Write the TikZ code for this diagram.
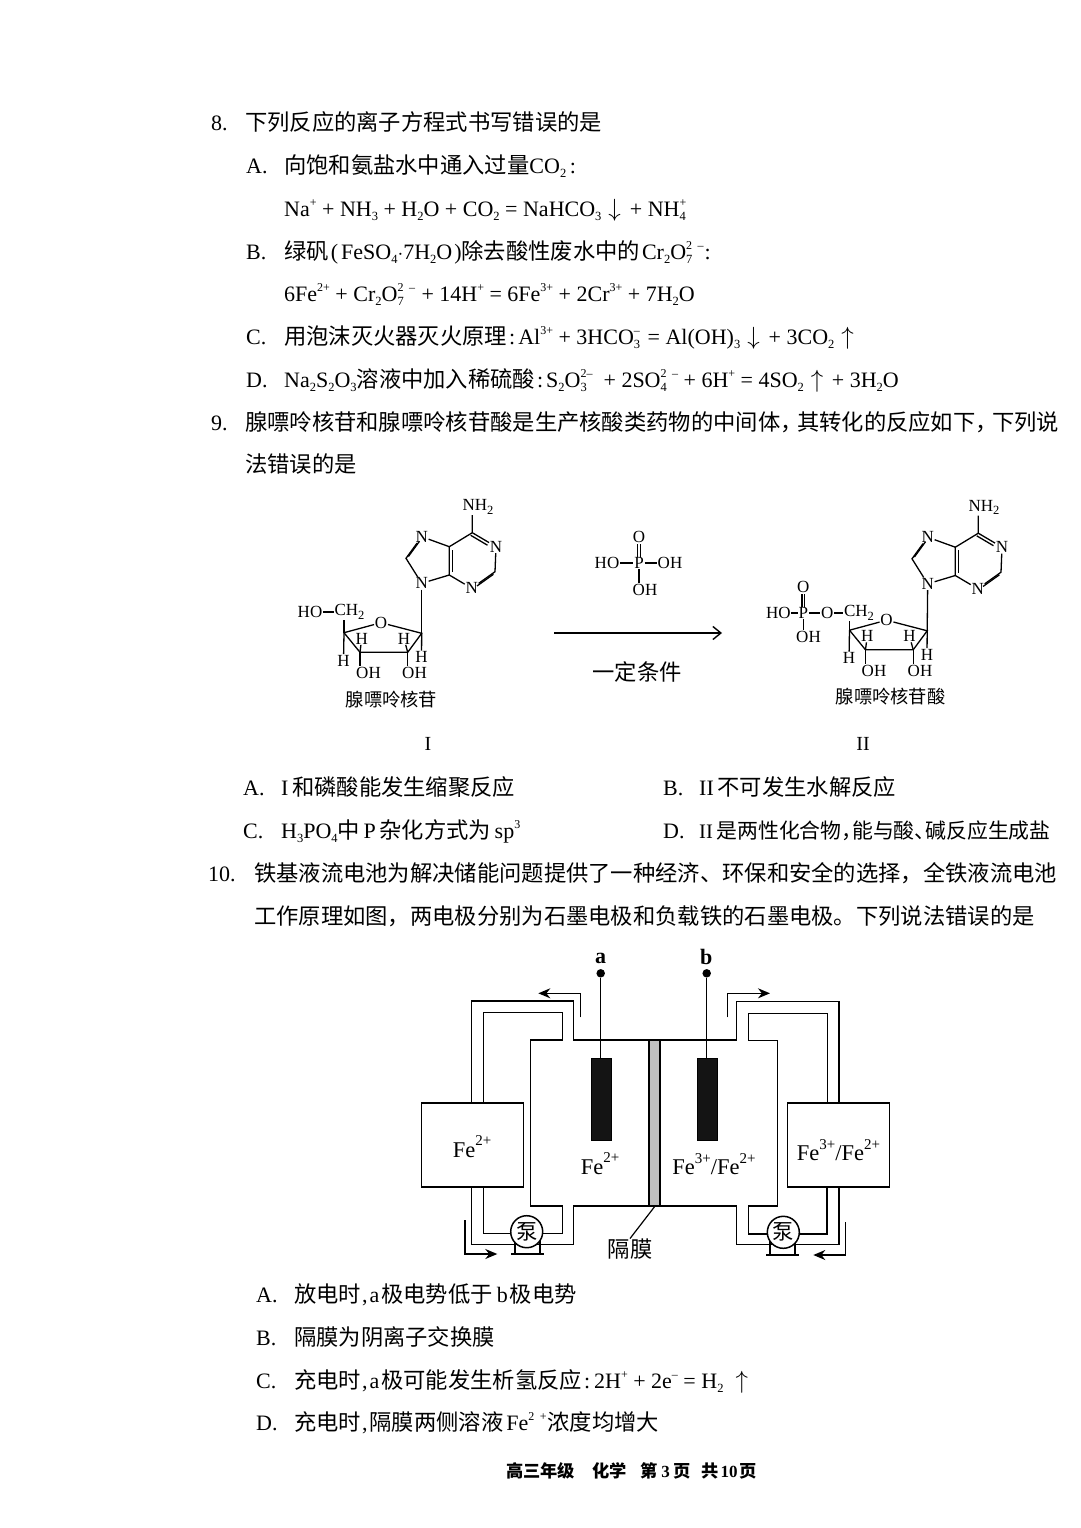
\documentclass[tikz,border=0pt]{standalone}
\usepackage{fontspec}
\setmainfont{Liberation Serif}
\newfontfamily\cjk[Scale=1.0136]{Noto Sans CJK SC}
\usetikzlibrary{arrows.meta}

\newcommand{\zh}[1]{{\cjk #1}}
\newcommand{\sbs}[1]{\raisebox{-.22em}{\fontsize{12.5}{13}\selectfont #1}}
\newcommand{\sps}[1]{\raisebox{.42em}{\fontsize{12}{13}\selectfont #1}}
\newcommand{\ion}[2]{\rlap{\sps{#2}}\sbs{#1}\hspace{.42em}}
\newcommand{\dnarr}{\hspace{7pt}{\fontsize{24.88}{26}\selectfont$\downarrow$}\hspace{3pt}}
\newcommand{\uparr}{\hspace{7pt}{\fontsize{24.88}{26}\selectfont$\uparrow$}\hspace{3pt}}
\newcommand{\halfc}{\zh{，}\hspace{-.25em}}
\newcommand{\fesp}[1]{\raisebox{.52em}{\fontsize{15}{16}\selectfont #1}}
\newcommand{\bodyfont}{\fontsize{22}{24}\selectfont\spaceskip=5.5pt\relax}

\tikzset{
  txt/.style={anchor=base west,inner sep=0pt,font=\bodyfont},
  atom/.style={inner sep=0.6pt,font=\fontsize{17}{18}\selectfont},
  caption/.style={inner sep=0pt,font=\fontsize{18}{19}\selectfont},
  bond/.style={line width=1.3pt},
  pipe/.style={line width=1.5pt},
  flow/.style={line width=1.4pt,-{Stealth[length=12pt,width=10pt]}},
  tank/.style={draw,line width=1.6pt,fill=white,minimum width=102pt,minimum height=84pt,inner sep=0pt},
  pump/.style={draw,circle,line width=1.5pt,fill=white,minimum size=32pt,inner sep=0pt,font=\fontsize{21}{22}\selectfont},
  rod/.style={draw,fill=black!92,minimum width=20.5pt,minimum height=82pt,inner sep=0pt},
  knob/.style={circle,fill=black,minimum size=8.5pt,inner sep=0pt},
  fe/.style={inner sep=0pt,font=\fontsize{22.5}{25}\selectfont},
}

% base ring, both molecules
\newcommand{\adeninepart}{
  \node[atom] (nh) at (478,507) {NH\sbs{2}};
  \coordinate (c6) at (472.3,532.7);
  \node[atom] (n1) at (496,546.7) {N};
  \coordinate (c2) at (495,571.7);
  \node[atom] (n3) at (471.7,588.3) {N};
  \coordinate (c4) at (449.3,575);
  \coordinate (c5) at (449.3,546.7);
  \node[atom] (n7) at (421.7,536.7) {N};
  \coordinate (c8) at (406,558.3);
  \node[atom] (n9) at (421.7,583.3) {N};
  \draw[bond] (c6) -- (n1) -- (c2) -- (n3) -- (c4) -- (c5) -- (c6) -- (c6 |- nh.south);
  \draw[bond] (c5) -- (n7) -- (c8) -- (n9) -- (c4);
  \draw[bond,shorten >=3pt,shorten <=3pt,transform canvas={xshift=3pt}] (c4) -- (c5);
  \draw[bond,transform canvas={xshift=-1.6pt,yshift=-2.6pt}] (c6) -- (n1);
  \draw[bond,transform canvas={xshift=-1.6pt,yshift=-2.6pt}] (c2) -- (n3);
  \draw[bond,transform canvas={xshift=2.4pt,yshift=1.8pt}] (c8) -- (n7);
}
% sugar ring, both molecules
\newcommand{\ribosepart}{
  \coordinate (r4) at (344,632.7);
  \coordinate (r3) at (360,652.3);
  \coordinate (r2) at (407.7,652.3);
  \coordinate (r1) at (421.7,633.3);
  \node[atom] (ro) at (381,622.7) {O};
  \node[atom] (ha) at (361.7,638.5) {H};
  \node[atom] (hb) at (404,638.5) {H};
  \node[atom] (hc) at (343.5,660.5) {H};
  \node[atom] (hd) at (421.5,657) {H};
  \node[atom] (oa) at (368.5,673) {OH};
  \node[atom] (ob) at (414.5,673) {OH};
  \draw[bond] (r4) -- (ro) -- (r1) -- (r2) -- (r3) -- (r4);
  \draw[bond] (r4) -- (hc);
  \draw[bond] (r1) -- (hd);
  \draw[bond] (r3) -- (ha);
  \draw[bond] (r2) -- (hb);
  \draw[bond] (r3) -- (r3 |- oa.north);
  \draw[bond] (r2) -- (r2 |- ob.north);
}

\begin{document}
\begin{tikzpicture}[x=1pt,y=-1pt]
  \useasboundingbox (0,0) rectangle (1080,1528);

  % question 8
  \node[txt] (qa) at (211,130) {8.};
  \node[txt] (qb) at (245,130) {\zh{下列反应的离子方程式书写错误的是}};
  \node[txt] (qc) at (246,173) {A.};
  \node[txt] (qd) at (284,173) {\zh{向饱和氨盐水中通入过量}CO\sbs{2}\,:};
  \node[txt] (qe) at (284,216) {Na\sps{+} + NH\sbs{3} + H\sbs{2}O + CO\sbs{2} = NaHCO\sbs{3}\dnarr{}\hspace{6pt}+ NH\ion{4}{+}};
  \node[txt] (qf) at (246,259) {B.};
  \node[txt] (qg) at (284,259) {\zh{绿矾}\hspace{2pt}(\hspace{3pt}FeSO\sbs{4}$\cdot$7H\sbs{2}O\hspace{2pt})\zh{除去酸性废水中的}\hspace{2pt}Cr\sbs{2}O\ion{7}{2 --}\hspace{3pt}:};
  \node[txt] (qh) at (284,301) {6Fe\sps{2+} + Cr\sbs{2}O\ion{7}{2 --}\hspace{3pt} + 14H\sps{+} = 6Fe\sps{3+} + 2Cr\sps{3+} + 7H\sbs{2}O};
  \node[txt] (qi) at (246,344) {C.};
  \node[txt] (qj) at (284,344) {\zh{用泡沫灭火器灭火原理}\hspace{2pt}:\hspace{3pt}Al\sps{3+} + 3HCO\rlap{\sps{--}}\sbs{3}\hspace{2pt} = Al(OH)\sbs{3}\dnarr{}\hspace{6pt}+ 3CO\sbs{2}\uparr};
  \node[txt] (qk) at (246,387) {D.};
  \node[txt] (ql) at (284,387) {Na\sbs{2}S\sbs{2}O\sbs{3}\zh{溶液中加入稀硫酸}\hspace{2pt}:\hspace{3pt}S\sbs{2}O\ion{3}{2--}\hspace{2pt} + 2SO\ion{4}{2 --}\hspace{2pt} + 6H\sps{+} = 4SO\sbs{2}\uparr{} + 3H\sbs{2}O};

  % question 9
  \node[txt] (ra) at (211,430) {9.};
  \node[txt] (rb) at (245,430) {\zh{腺嘌呤核苷和腺嘌呤核苷酸是生产核酸类药物的中间体}\halfc\zh{其转化的反应如下}\halfc\zh{下列说}};
  \node[txt] (rc) at (245,472) {\zh{法错误的是}};

  % molecule I
  \begin{scope}[name prefix=I-]
    \adeninepart
    \ribosepart
    \node[atom] (ho) at (310,612) {HO};
    \node[atom] (ch) at (349.5,612) {CH\sbs{2}};
    \draw[bond] (ho) -- (ch);
    \draw[bond] (r4) -- (r4 |- ch.south);
  \end{scope}
  \draw[bond] (I-n9) -- (I-r1);
  \node[caption] (capa) at (391.5,700) {\zh{腺嘌呤核苷}};
  \node[atom,font=\fontsize{20}{22}\selectfont] (numa) at (428,744) {I};

  % reagent and arrow
  \coordinate (arra) at (554,633);
  \coordinate (arrb) at (722,633);
  \draw[line width=1.4pt,-{Straight Barb[length=8pt,width=13pt]}] (arra) -- (arrb);
  \node[atom] (pp) at (639,563) {P};
  \node[atom] (po) at (639,537) {O};
  \node[atom] (pa) at (607,563) {HO};
  \node[atom] (pb) at (670,563) {OH};
  \node[atom] (pc) at (645,590) {OH};
  \draw[bond] (pa) -- (pp);
  \draw[bond] (pp) -- (pb);
  \draw[bond] (pp) -- (pp |- pc.north);
  \draw[bond,transform canvas={xshift=-1.2pt}] (pp) -- (po);
  \draw[bond,transform canvas={xshift=1.2pt}] (pp) -- (po);
  \node[inner sep=0pt,font=\fontsize{22}{24}\selectfont] (cond) at (637,672) {\zh{一定条件}};

  % molecule II
  \begin{scope}[shift={(506,0.5)},name prefix=II-]
    \adeninepart
  \end{scope}
  \begin{scope}[shift={(505.5,-2.5)},name prefix=II-]
    \ribosepart
  \end{scope}
  \begin{scope}[name prefix=II-]
    \node[atom] (ch) at (859,613) {CH\sbs{2}};
    \node[atom] (ol) at (827.3,613) {O};
    \node[atom] (pp) at (803.3,613) {P};
    \node[atom] (pd) at (803.3,587) {O};
    \node[atom] (ho) at (778.3,613) {HO};
    \node[atom] (oh) at (808.5,636.5) {OH};
    \draw[bond] (ho) -- (pp);
    \draw[bond] (pp) -- (ol);
    \draw[bond] (ol) -- (ch);
    \draw[bond] (pp) -- (pp |- oh.north);
    \draw[bond,transform canvas={xshift=-1.2pt}] (pp) -- (pd);
    \draw[bond,transform canvas={xshift=1.2pt}] (pp) -- (pd);
    \draw[bond] (r4) -- (r4 |- ch.south);
  \end{scope}
  \draw[bond] (II-n9) -- (II-r1);
  \node[caption] (capb) at (890.5,697) {\zh{腺嘌呤核苷酸}};
  \node[atom,font=\fontsize{20}{22}\selectfont] (numb) at (863,744) {II};

  \node[txt] (sa) at (243,795) {A.};
  \node[txt] (sb) at (281,795) {I\,\zh{和磷酸能发生缩聚反应}};
  \node[txt] (sc) at (663,795) {B.};
  \node[txt] (sd) at (699,795) {II\,\zh{不可发生水解反应}};
  \node[txt] (se) at (243,838) {C.};
  \node[txt] (sf) at (281,838) {H\sbs{3}PO\sbs{4}\zh{中}\,P\,\zh{杂化方式为}\,sp\sps{3}};
  \node[txt] (sg) at (663,838) {D.};
  \node[txt,font=\fontsize{20.6}{24}\selectfont] (sh) at (699,838) {II\,\zh{是两性化合物}\zh{，}\hspace{-.5em}\zh{能与酸、}\hspace{-.5em}\zh{碱反应生成盐}};

  % question 10
  \node[txt] (ta) at (208,881) {10.};
  \node[txt] (tb) at (254,881) {\zh{铁基液流电池为解决储能问题提供了一种经济、环保和安全的选择，全铁液流电池}};
  \node[txt] (tc) at (254,924) {\zh{工作原理如图，两电极分别为石墨电极和负载铁的石墨电极。下列说法错误的是}};

  % cell walls and pipes
  \draw[pipe] (471.7,1102.7) -- (471.7,1001) -- (573.3,1001) -- (573.3,1040) -- (736.7,1040)
    -- (736.7,1001.7) -- (839,1001.7) -- (839,1103);
  \draw[pipe] (483.3,1102.7) -- (483.3,1012.7) -- (562.3,1012.7) -- (562.3,1040) -- (530.7,1040)
    -- (530.7,1206) -- (562.3,1206) -- (562.3,1233.3) -- (483.3,1233.3) -- (483.3,1186.7);
  \draw[pipe] (471.7,1186.7) -- (471.7,1244.3) -- (573.3,1244.3) -- (573.3,1206) -- (736.7,1206)
    -- (736.7,1244.3) -- (839,1244.3) -- (839,1186.7);
  \draw[pipe] (827.3,1103) -- (827.3,1013.3) -- (748.3,1013.3) -- (748.3,1040.5) -- (777.7,1040.5)
    -- (777.7,1206) -- (748.3,1206) -- (748.3,1233.8) -- (827,1233.8) -- (827,1186.7);

  % membrane
  \node[draw,pipe,fill=black!25,minimum width=11pt,minimum height=166pt,inner sep=0pt] (memb) at (654.5,1123) {};
  \node[inner sep=0pt,font=\fontsize{22}{24}\selectfont] (membl) at (630,1249) {\zh{隔膜}};
  \draw[line width=1.2pt] (memb.south) -- (membl.north);

  % tanks
  \node[tank] (tanka) at (472.5,1144.7) {};
  \node[tank] (tankb) at (838.3,1144.8) {};
  \node[fe] (fea) at (472,1146.5) {Fe\fesp{2+}};
  \node[fe] (feb) at (838.5,1150) {Fe\fesp{3+}/Fe\fesp{2+}};
  \node[fe] (fec) at (600,1163.5) {Fe\fesp{2+}};
  \node[fe] (fed) at (714,1164) {Fe\fesp{3+}/Fe\fesp{2+}};

  % electrodes
  \node[rod] (rodb) at (707,1098.8) {};
  \node[rod] (roda) at (601.2,1098.8) {};
  \node[knob] (knoba) at (600.7,973.3) {};
  \node[knob] (knobb) at (706.7,973.3) {};
  \node[inner sep=0pt,font=\bfseries\fontsize{22}{24}\selectfont] (laba) at (600.7,958) {a};
  \node[inner sep=0pt,font=\bfseries\fontsize{22}{24}\selectfont] (labb) at (706.3,957) {b};
  \draw[pipe] (knoba) -- (knoba |- roda.north);
  \draw[pipe] (knobb) -- (knobb |- rodb.north);

  % pumps
  \draw[pipe] (511,1254) -- (544,1254);
  \draw[pipe] (515,1254) -- (515,1240);
  \draw[pipe] (540,1254) -- (540,1240);
  \draw[pipe] (766,1255) -- (799.3,1255);
  \draw[pipe] (770,1255) -- (770,1240);
  \draw[pipe] (795,1255) -- (795,1240);
  \node[pump] (pumpa) at (526.7,1231.7) {\zh{泵}};
  \node[pump] (pumpb) at (783.3,1232.3) {\zh{泵}};

  % flow arrows
  \coordinate (fa) at (580.7,1017.3);
  \coordinate (fb) at (580.7,993.3);
  \coordinate (fc) at (538.3,993.3);
  \draw[flow] (fa) -- (fb) -- (fc);
  \coordinate (ga) at (465,1220);
  \coordinate (gb) at (465,1254);
  \coordinate (gc) at (497.3,1254);
  \draw[flow] (ga) -- (gb) -- (gc);
  \coordinate (ha) at (727.3,1017.3);
  \coordinate (hb) at (727.3,993.3);
  \coordinate (hc) at (770,993.3);
  \draw[flow] (ha) -- (hb) -- (hc);
  \coordinate (ia) at (845.7,1222.3);
  \coordinate (ib) at (845.7,1255);
  \coordinate (ic) at (813.3,1255);
  \draw[flow] (ia) -- (ib) -- (ic);

  \node[txt] (ua) at (256,1302) {A.};
  \node[txt] (ub) at (294,1302) {\zh{放电时}\hspace{1pt},\hspace{2pt}a\hspace{2pt}\zh{极电势低于}\hspace{4pt}b\hspace{2pt}\zh{极电势}};
  \node[txt] (uc) at (256,1345) {B.};
  \node[txt] (ud) at (294,1345) {\zh{隔膜为阴离子交换膜}};
  \node[txt] (ue) at (256,1388) {C.};
  \node[txt] (uf) at (294,1388) {\zh{充电时}\hspace{1pt},\hspace{2pt}a\hspace{2pt}\zh{极可能发生析氢反应}\hspace{2pt}:\hspace{4pt}2H\sps{+} + 2e\sps{--} = H\sbs{2}\hspace{5pt}\uparr};
  \node[txt] (ug) at (256,1430) {D.};
  \node[txt] (uh) at (294,1430) {\zh{充电时}\hspace{1pt},\hspace{2pt}\zh{隔膜两侧溶液}\hspace{3pt}Fe\sps{2 +}\hspace{1pt}\zh{浓度均增大}};

  \node[anchor=base west,inner sep=0pt,font=\bfseries\fontsize{17}{18}\selectfont] (foot) at (506,1477)
    {\zh{高三年级}\hspace{1em}\zh{化学}\hspace{.8em}\zh{第}\hspace{4pt}3\hspace{4pt}\zh{页}\hspace{.6em}\zh{共}\hspace{2pt}10\hspace{2pt}\zh{页}};
\end{tikzpicture}
\end{document}
